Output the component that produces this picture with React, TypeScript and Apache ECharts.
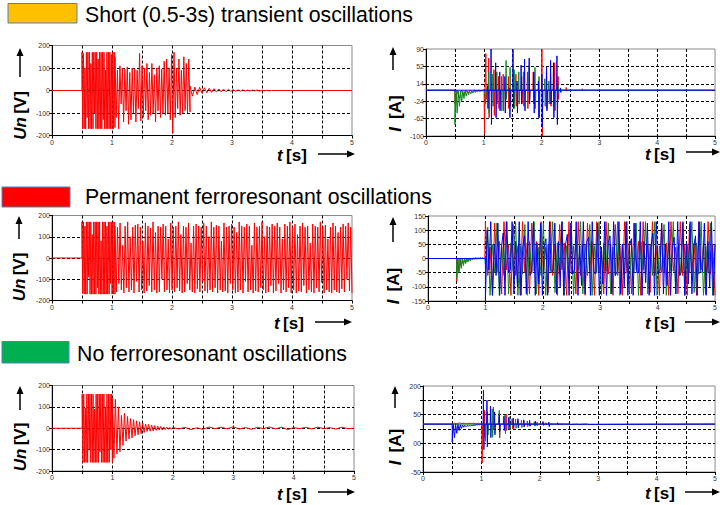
import React, { useEffect, useRef } from 'react';
import * as echarts from 'echarts';

// ---------- titles ----------
const titles = [
  'Short (0.5-3s) transient oscillations',
  'Permanent ferroresonant oscillations',
  'No ferroresonant oscillations',
];
const xTickLabels = ['0', '1', '2', '3', '4', '5'];

// ---------- Panel 1: short transient, Un [V] ----------
const shortUnBurst = [170,-170,165,-170,100,-170,170,-120,170,-170,170,-170,120,-170,170,-170,170,-100,170,-170,170,-170,140,-170,170,-170,170,-170,170,-130,170,-170,90,-170,170,-170,170,-170,170,-170,160,-170,170,-170,170,-165]; // 0.50-1.05 s
const shortUnSwing = [150,-120,90,-170,110,-60,100,-140,95,-90,105,-150,80,-130,100,-100,95,-140,90,-80,165,-135,110,-120,100,-90,120,-130,80,-110,120,-100,70,-140,100,-90,110,-120,95,-100,130,-110,140,-100,100,-130,160,-190,170,-120,100,-80,140,-110,90,-100,150,-90,120,-100,140,-95]; // 1.05-2.30 s
const shortUnDecay = [20,-25,15,-18,14,-12,12,-10,10,-8,8,-7,7,-6,6,-5,5,-4,4,-4,3,-3,3,-3,2,-2,2,-2,2,-2,1,-1,1,-1,0,0]; // 2.30-3.70 s

// ---------- Panel 1: short transient, I [A] ----------
const shortIRedA = [-30,0,-18,0,-10,0,-6,0,-4,0,-2,0,-1,0]; // 0.50-0.99 s
const shortIRedT = [1.0,1.03,1.08,1.17,1.25,1.33,1.42,1.55,1.65,1.75,1.85,2.0,2.08,2.15,2.22,2.28,2.42,2.7];
const shortIRedUp = [0,80,70,45,30,35,30,35,30,40,40,90,50,30,60,30,6,3];
const shortIRedDown = [-95,-20,-60,-55,-40,-45,-40,-35,-30,-40,-30,-100,-40,-35,-45,-20,-2,0];
const shortIGreenA = [-75,0,-50,-2,-35,-2,-25,-2,-18,-2,-13,-2,-10,-2,-8,-2,-6,-1,-5,-1,-4,-1,-3,-1,-2,0]; // 0.50-0.99 s
const shortIGreenT = [1.02,1.08,1.15,1.22,1.3,1.38,1.45,1.52,1.6,1.68,1.78,1.88,1.95,2.05,2.12,2.2,2.28];
const shortIGreenUp = [0,40,35,40,30,65,50,45,40,40,55,50,30,25,20,15,10];
const shortIGreenDown = [-30,-50,-35,-30,-45,-20,-35,-40,-30,-35,-20,-40,-60,-35,-30,-35,-5];
const shortIBlueT = [1.06,1.12,1.2,1.27,1.36,1.44,1.5,1.57,1.64,1.7,1.78,1.86,1.94,2.0,2.08,2.15,2.2,2.26,2.32];
const shortIBlueUp = [10,90,60,40,30,5,90,20,55,68,70,40,20,35,50,65,60,75,5];
const shortIBlueDown = [-40,-75,-60,-45,-50,-60,-40,-50,-30,-45,-30,-50,-60,-80,-45,-30,-60,-75,-5];

// ---------- Panel 2: permanent, Un [V] ----------
const permUnBurst = [170,-165,170,-170,150,-170,170,-170,170,-90,170,-170,170,-170,110,-170,170,-170,170,-170,170,-140,170,-170,170,-170,80,-170,170,-170,170,-170,170,-170,150,-170,170,-170,170,-120,170,-170,170,-170,170,-170]; // 0.50-1.05 s
const permUnSwing = [
  150,-160,145,-120,165,-150,60,-165,150,-140,170,-160,100,-150,145,-165,
  155,-110,160,-160,145,-150,80,-165,165,-155,150,-130,140,-160,170,-150,
  120,-165,150,-160,145,-100,160,-160,150,-150,90,-165,165,-150,145,-160,
  150,-140,170,-155,110,-165,150,-160,145,-120,165,-150,70,-160,150,-165,
  160,-145,150,-160,145,-110,165,-155,150,-165,100,-150,170,-160,145,-140,
  155,-165,150,-150,80,-160,165,-155,145,-165,150,-120,160,-150,145,-165,
  120,-160,170,-150,150,-165,145,-110,160,-160,150,-150,60,-165,165,-155,
  145,-160,150,-140,170,-150,100,-165,150,-160,145,-130,160,-165,
  150,-155,165,-120,145,-165,90,-150,160,-160,150,-140,170,-165,
  145,-150,160,-165,110,-155,150,-160,165,-130,145,-165,150,-150,70,-160,
  160,-165,150,-140,145,-160,170,-115,150,-165,155,-150,90,-160,145,-165,
  165,-150,150,-160,120,-165,145,-145,160,-160,150,-100,165,-155,145,-165,
]; // 1.05-5.00 s

// ---------- Panel 2: permanent, I [A] ----------
const permIRedA = [-80,0,-45,-2,-28,-2,-18,-1,-12,-1,-8,0,-5,0,-3,2,0,3,0,2,0,3,0,2,0,3]; // 0.50-0.99 s
const permIGreenA = [-70,0,-50,-2,-35,-2,-25,-2,-18,-1,-12,-1,-8,0,-5,0,-3,0,-2,0,-1,0,0,0,0,0]; // 0.50-0.99 s
const permIRed = [
  130,-60,40,-130,125,-50,60,-125,130,-40,50,-130,120,-60,45,-130,130,-50,55,-125,
  125,-45,60,-130,130,-55,40,-120,130,-60,50,-130,120,-40,55,-130,130,-50,45,-125,
  130,-60,50,-130,125,-45,60,-130,130,-50,40,-125,130,-55,50,-130,120,-60,45,-130,
  130,-50,55,-125,125,-40,60,-130,130,-55,50,-120,130,-60,45,-130,125,-50,55,-130,
  130,-45,40,-125,130,-60,50,-130,120,-50,55,-130,130,-40,45,-125,130,-55,50,-130,
]; // 1.00-5.00 s
const permIGreen = [
  -20,110,-130,50,-50,125,-130,40,-60,130,-125,55,-45,130,-130,45,-55,120,-130,60,
  -50,130,-125,40,-60,125,-130,50,-45,130,-120,55,-55,130,-130,45,-50,125,-130,60,
  -40,130,-125,50,-60,120,-130,45,-50,130,-130,55,-45,125,-125,40,-60,130,-130,50,
  -55,130,-120,45,-50,125,-130,60,-40,130,-125,50,-60,130,-130,45,-50,120,-130,55,
  -45,130,-125,40,-60,125,-130,50,-50,130,-120,55,-55,130,-130,45,-50,125,-130,50,
]; // 1.00-5.00 s
const permIBlue = [
  -150,100,-40,130,-130,50,-60,125,-130,40,90,-130,130,-50,-40,130,-125,60,-100,130,
  -130,45,80,-125,130,-60,-50,130,-130,55,-90,125,-130,40,70,-130,130,-50,-45,125,
  -125,60,-100,130,-130,50,85,-130,125,-55,-40,130,-130,45,-95,130,-125,60,75,-130,
  130,-50,-55,125,-130,40,-90,130,-130,55,80,-125,130,-60,-45,130,-125,50,-100,130,
  -130,45,70,-130,125,-50,-50,130,-130,60,-85,125,-130,40,90,-130,130,-55,-40,125,
  -125,50,-95,130,-130,45,75,-125,130,-60,-50,130,-130,55,-90,130,-125,40,80,-130,
  130,-50,-45,125,-130,60,-100,130,-130,50,
]; // 1.00-5.00 s

// ---------- Panel 3: no ferroresonance, Un [V] ----------
const noUnBurst = [160,-160,160,-160,95,-160,160,-160,160,-100,160,-160,160,-160,160,-160,90,-160,160,-160,160,-160,160,-110,160,-160,160,-160,160,-160,100,-160,160,-160,160,-160,160,-100,160,-160]; // 0.50-1.00 s
const noUnRing = [140,-140,135,-120,100,-110,60,-80,70,-60,55,-50,45,-45,40,-35,35,-30,30,-25,25,-20,20,-15,18,-14,15,-12,12,-10,10,-8,8,-8,6,-6,5,-5,4,-4,3]; // 1.00-2.00 s
const noUnTail = [5,-3,4,-6,2,-5,6,-2,5,-3,7,-4,3,-5,4,-2,6,-3,5,-6,3,-2,4,-3,5,-2,3,-4,5,-2,0]; // 2.00-5.00 s

// ---------- Panel 3: no ferroresonance, I [A] (axis units) ----------
const noIBase = 67;
const noIBlueA = [5,67,20,67,35,66,45,65,52,64,56,63,58,62,60,62,61,63,62,64,63,65,64,66,65,67]; // 0.50-1.00 s
const noIRedA = [67,70,68,71,69,70,68,70,69,70,68,70,67]; // 0.50-1.00 s
const noIRedT = [1.0,1.05,1.2,1.3,1.42,1.52,1.62,1.72,1.82,1.95,2.1,2.3,2.5];
const noIRedUp = [67,115,126,90,101,85,80,78,76,74,72,70,69];
const noIRedDown = [-68,20,48,19,45,50,55,58,60,62,64,65,66];
const noIGreenT = [1.06,1.1,1.18,1.3,1.4,1.48,1.58,1.68,1.78,1.9,2.05,2.2,2.45,2.8];
const noIGreenUp = [67,110,120,115,100,93,85,80,78,75,72,70,69,68];
const noIGreenDown = [7,30,21,21,34,46,52,55,58,60,62,64,66,66];
const noIBlueT = [1.03,1.09,1.15,1.22,1.3,1.38,1.46,1.54,1.62,1.72,1.82,1.92,2.05,2.15,2.3,2.5,2.65,2.82];
const noIBlueUp = [185,150,130,110,100,95,90,88,86,82,80,78,76,74,72,70,69,68];
const noIBlueDown = [-22,-12,20,30,40,45,50,52,55,58,60,62,64,58,65,66,66,66];
const noIYLabels: Record<string, string> = { '200': '200', '100': '50', '0': '00', '-100': '-50' };

// ---------- helpers ----------
type Pt = [number, number];
const seg = (t0: number, t1: number, vals: number[]): Pt[] =>
  vals.map((v, i) => [t0 + ((t1 - t0) * i) / Math.max(1, vals.length - 1), v]);
// one bipolar spike per time: baseline -> up -> down -> baseline
const spikes = (base: number, ts: number[], ups: number[], downs: number[]): Pt[] =>
  ts.flatMap((t, i) => [
    [t, base],
    [t + 0.005, ups[i]],
    [t + 0.012, downs[i]],
    [t + 0.02, base],
  ] as Pt[]);

const RED = '#ff0000';
const GREEN = '#0a8a1e';
const BLUE = '#0000ff';
const FONT = 'Liberation Sans, Arial, sans-serif';

const grids = [
  { left: 52, top: 45.5, width: 300, height: 90 },
  { left: 426, top: 49, width: 293, height: 87 },
  { left: 52, top: 215.5, width: 300, height: 85 },
  { left: 428, top: 216, width: 291, height: 85 },
  { left: 52, top: 385.5, width: 302, height: 85.5 },
  { left: 423, top: 386, width: 296, height: 86 },
];

const yRanges = [
  { min: -200, max: 200, interval: 100 },
  { min: -100, max: 90, interval: 38 },
  { min: -200, max: 200, interval: 100 },
  { min: -150, max: 150, interval: 50 },
  { min: -200, max: 200, interval: 100 },
  { min: -100, max: 200, interval: 50 },
];

const dash = { color: '#000', type: [3, 2] as number[], width: 1 };

const xAxes = grids.map((_, gi) => ({
  type: 'value',
  gridIndex: gi,
  min: 0,
  max: 5,
  interval: 0.5,
  axisLine: { show: true, onZero: false, lineStyle: { color: '#000', width: 1 } },
  axisTick: { show: true, length: 3, lineStyle: { color: '#000' } },
  axisLabel: {
    fontSize: 7,
    color: '#333',
    margin: 3,
    fontFamily: FONT,
    formatter: (v: number) => {
      const r = Math.round(v);
      return Math.abs(v - r) < 1e-6 ? xTickLabels[r] : '';
    },
  },
  splitLine: { show: true, showMinLine: false, showMaxLine: false, lineStyle: dash },
}));

const yAxes = yRanges.map((r, gi) => ({
  type: 'value',
  gridIndex: gi,
  min: r.min,
  max: r.max,
  interval: r.interval,
  axisLine: { show: true, onZero: false, lineStyle: { color: '#000', width: 1 } },
  axisTick: { show: true, length: 3, lineStyle: { color: '#000' } },
  axisLabel: {
    fontSize: 7,
    color: '#333',
    margin: 2,
    fontFamily: FONT,
    formatter:
      gi === 5
        ? (v: number) => noIYLabels[String(Math.round(v))] ?? ''
        : (v: number) => String(Math.round(v)),
  },
  splitLine: { show: true, showMinLine: false, showMaxLine: false, lineStyle: dash },
}));

const line = (gi: number, color: string, data: Pt[]) => ({
  type: 'line',
  xAxisIndex: gi,
  yAxisIndex: gi,
  data,
  showSymbol: false,
  symbol: 'none',
  silent: true,
  clip: true,
  lineStyle: { color, width: 1 },
  itemStyle: { color },
});

const series = [
  // panel 1
  line(0, RED, [[0, 0], [0.5, 0], ...seg(0.5, 1.05, shortUnBurst), ...seg(1.05, 2.3, shortUnSwing), ...seg(2.3, 3.7, shortUnDecay), [5, 0]]),
  line(1, RED, [[0, 0], [0.5, 0], ...seg(0.5, 0.99, shortIRedA), ...spikes(0, shortIRedT, shortIRedUp, shortIRedDown), [5, 0]]),
  line(1, GREEN, [[0, 0], [0.5, 0], ...seg(0.5, 0.99, shortIGreenA), ...spikes(0, shortIGreenT, shortIGreenUp, shortIGreenDown), [5, 0]]),
  line(1, BLUE, [[0, 0], ...spikes(0, shortIBlueT, shortIBlueUp, shortIBlueDown), [5, 0]]),
  // panel 2
  line(2, RED, [[0, 0], [0.5, 0], ...seg(0.5, 1.05, permUnBurst), ...seg(1.05, 5.0, permUnSwing)]),
  line(3, RED, [[0, 0], [0.5, 0], ...seg(0.5, 0.99, permIRedA), ...seg(1.0, 5.0, permIRed)]),
  line(3, GREEN, [[0, 0], [0.5, 0], ...seg(0.5, 0.99, permIGreenA), ...seg(1.0, 5.0, permIGreen)]),
  line(3, BLUE, [[0, 0], [1.0, 0], ...seg(1.0, 5.0, permIBlue)]),
  // panel 3
  line(4, RED, [[0, 0], [0.5, 0], ...seg(0.5, 1.0, noUnBurst), ...seg(1.0, 2.0, noUnRing), ...seg(2.0, 5.0, noUnTail)]),
  line(5, RED, [[0, noIBase], [0.5, noIBase], ...seg(0.5, 0.99, noIRedA), ...spikes(noIBase, noIRedT, noIRedUp, noIRedDown), [5, noIBase]]),
  line(5, GREEN, [[0, noIBase], ...spikes(noIBase, noIGreenT, noIGreenUp, noIGreenDown), [5, noIBase]]),
  line(5, BLUE, [[0, noIBase], [0.5, noIBase], ...seg(0.5, 0.99, noIBlueA), ...spikes(noIBase, noIBlueT, noIBlueUp, noIBlueDown), [5, noIBase]]),
];

// ---------- graphic decorations ----------
const legendBoxes = [
  { x: 8, y: 3.5, w: 69, h: 19.5, fill: '#ffc000', tx: 85, ty: 15 },
  { x: 2, y: 187, w: 68, h: 20, fill: '#ff0000', tx: 85, ty: 196.5 },
  { x: 2, y: 341.5, w: 67, h: 21.5, fill: '#00b050', tx: 77, ty: 354 },
];

const arrowUp = (x: number, tip: number, bottom: number) => [
  { type: 'line', shape: { x1: x, y1: bottom, x2: x, y2: tip + 5 }, style: { stroke: '#000', lineWidth: 1.5 } },
  { type: 'polygon', shape: { points: [[x, tip], [x - 3.5, tip + 8], [x + 3.5, tip + 8]] }, style: { fill: '#000' } },
];
const arrowRight = (x1: number, tip: number, y: number) => [
  { type: 'line', shape: { x1, y1: y, x2: tip - 5, y2: y }, style: { stroke: '#000', lineWidth: 1.5 } },
  { type: 'polygon', shape: { points: [[tip, y], [tip - 8, y - 3.5], [tip - 8, y + 3.5]] }, style: { fill: '#000' } },
];

const richName = {
  i: { fontStyle: 'italic', fontWeight: 'bold', fontSize: 17, fontFamily: FONT, fill: '#000' },
  b: { fontWeight: 'bold', fontSize: 17, fontFamily: FONT, fill: '#000' },
};
const yName = (x: number, y: number, sym: string, unit: string) => ({
  type: 'text',
  x,
  y,
  rotation: Math.PI / 2,
  style: { text: `{i|${sym}} {b|${unit}}`, rich: richName, align: 'center', verticalAlign: 'middle' },
});
const tName = (x: number, y: number) => ({
  type: 'text',
  x,
  y,
  style: { text: '{i|t} {b|[s]}', rich: richName, align: 'center', verticalAlign: 'middle' },
});

const graphic: any[] = [];
legendBoxes.forEach((b, i) => {
  graphic.push({
    type: 'rect',
    shape: { x: b.x, y: b.y, width: b.w, height: b.h },
    style: { fill: b.fill, stroke: '#4f81bd', lineWidth: 1 },
  });
  graphic.push({
    type: 'text',
    x: b.tx,
    y: b.ty,
    style: { text: titles[i], fontSize: 21.3, fontFamily: FONT, fill: '#000', align: 'left', verticalAlign: 'middle' },
  });
});
graphic.push(
  ...arrowUp(20, 48, 77), yName(20, 115.5, 'Un', '[V]'), tName(292, 155), ...arrowRight(318, 355, 154),
  ...arrowUp(393, 47, 70), yName(395, 113.5, 'I', ' [A]'), tName(660, 154), ...arrowRight(686, 720, 152),
  ...arrowUp(19, 216, 239), yName(19, 277, 'Un', '[V]'), tName(289, 323), ...arrowRight(315, 352, 322),
  ...arrowUp(393, 217, 242), yName(393, 286, 'I', ' [A]'), tName(660, 323), ...arrowRight(685, 720, 322),
  ...arrowUp(20, 386, 410), yName(20, 447, 'Un', '[V]'), tName(292, 494), ...arrowRight(318, 355, 492),
  ...arrowUp(395, 386, 408), yName(395, 447, 'I', ' [A]'), tName(660, 493), ...arrowRight(685, 720, 492),
);

const option = {
  animation: false,
  backgroundColor: '#fff',
  grid: grids.map((g) => ({ ...g, show: true, borderColor: '#8a8a8a', borderWidth: 1, backgroundColor: 'transparent', containLabel: false })),
  xAxis: xAxes,
  yAxis: yAxes,
  series,
  graphic,
};

export default function App() {
  const ref = useRef<HTMLDivElement>(null);
  useEffect(() => {
    document.body.style.margin = '0';
    const chart = echarts.init(ref.current!, null, { renderer: 'svg' });
    chart.setOption(option as any);
    return () => chart.dispose();
  }, []);
  return (
    <div
      ref={ref}
      style={{ position: 'absolute', left: 0, top: 0, width: 720, height: 505, background: '#fff' }}
    />
  );
}
